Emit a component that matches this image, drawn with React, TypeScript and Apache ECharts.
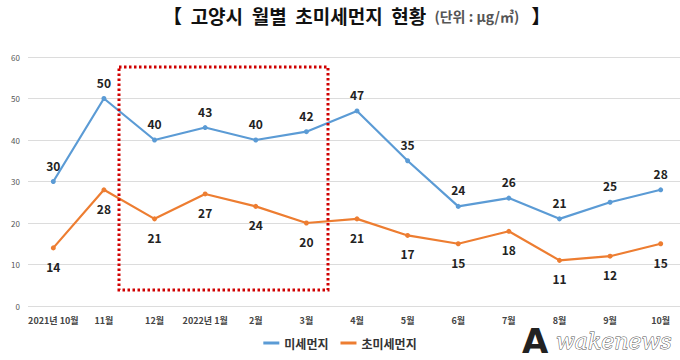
import React, { useEffect, useRef } from "react";
import * as echarts from "echarts";

const categories = ["2021년 10월", "11월", "12월", "2022년 1월", "2월", "3월", "4월", "5월", "6월", "7월", "8월", "9월", "10월"];
const pm10 = [30, 50, 40, 43, 40, 42, 47, 35, 24, 26, 21, 25, 28];
const pm25 = [14, 28, 21, 27, 24, 20, 21, 17, 15, 18, 11, 12, 15];
const yTicks = [0, 10, 20, 30, 40, 50, 60];

export default function App() {
  const ref = useRef<HTMLDivElement>(null);
  useEffect(() => {
    document.body.style.margin = "0";
    const chart = echarts.init(ref.current!, null, { renderer: "svg" });
    const font = "'Noto Sans CJK KR', 'Noto Sans', sans-serif";
    chart.setOption({
      animation: false,
      backgroundColor: "#ffffff",
      textStyle: { fontFamily: font },
      title: {
        text: "{b|【  고양시  월별  초미세먼지  현황}  {s|(단위 : μg/㎥)}   {b|】}",
        left: 158,
        top: 1,
        textStyle: {
          rich: {
            b: { fontSize: 19, fontWeight: "bold", color: "#111", fontFamily: font },
            s: { fontSize: 14, color: "#555", fontFamily: font },
          },
        },
      },
      legend: {
        bottom: 6,
        left: "center",
        itemWidth: 16,
        itemHeight: 3,
        itemGap: 12,
        textStyle: { fontSize: 12, fontWeight: "bold", color: "#333", fontFamily: font },
        data: [
          { name: "미세먼지", icon: "rect" },
          { name: "초미세먼지", icon: "rect" },
        ],
      },
      grid: { left: 28, right: -6, top: 57, bottom: 54, outerBoundsMode: "none", containLabel: false },
      xAxis: {
        type: "category",
        data: categories,
        boundaryGap: true,
        axisLine: { show: false },
        axisTick: { show: false },
        axisLabel: { fontSize: 9, fontWeight: "bold", color: "#444", margin: 10, interval: 0 },
      },
      yAxis: {
        type: "value",
        min: yTicks[0],
        max: yTicks[yTicks.length - 1],
        interval: 10,
        axisLine: { show: false },
        axisTick: { show: false },
        axisLabel: { fontSize: 8, color: "#555", margin: 8, align: "right" },
        splitLine: { lineStyle: { color: "#dcdcdc", width: 1 } },
      },
      series: [
        {
          name: "미세먼지",
          type: "line",
          data: pm10,
          symbol: "circle",
          symbolSize: 5,
          color: "#5b9bd5",
          lineStyle: { width: 2.2, color: "#5b9bd5" },
          label: { show: true, position: "top", distance: 8, fontSize: 12, fontWeight: "bold", color: "#222" },
        },
        {
          name: "초미세먼지",
          type: "line",
          data: pm25,
          symbol: "circle",
          symbolSize: 5,
          color: "#ed7d31",
          lineStyle: { width: 2.2, color: "#ed7d31" },
          label: { show: true, position: "bottom", distance: 10, fontSize: 12, fontWeight: "bold", color: "#222" },
        },
      ],
      graphic: [
        {
          type: "rect",
          shape: { x: 119, y: 67, width: 209, height: 223 },
          style: { fill: "none", stroke: "#d00000", lineWidth: 3, lineDash: [2.5, 2.5] },
          z: 10,
        },
        {
          type: "text",
          x: 522,
          y: 324,
          style: { text: "A", font: "bold 34px 'DejaVu Sans'", fill: "#222" },
          z: 11,
        },
        {
          type: "text",
          x: 556,
          y: 330,
          style: {
            text: "wakenews",
            font: "italic 22px 'DejaVu Serif'",
            fill: "#ffffff",
            stroke: "#555",
            lineWidth: 1,
          },
          z: 11,
        },
      ],
    });
    return () => chart.dispose();
  }, []);
  return <div ref={ref} style={{ width: 680, height: 360 }} />;
}
